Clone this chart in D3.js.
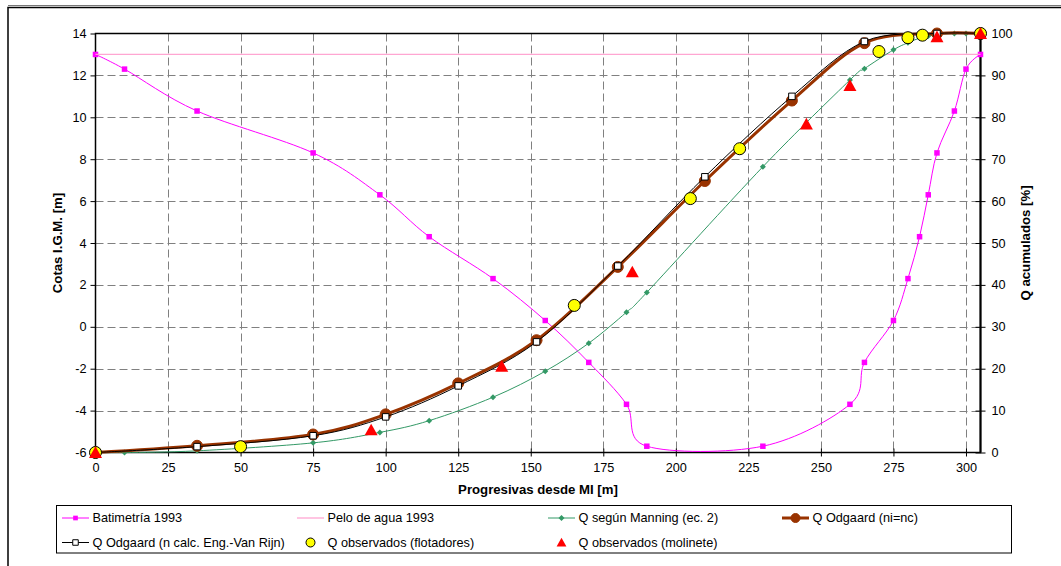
<!DOCTYPE html>
<html>
<head>
<meta charset="utf-8">
<script src="https://cdn.jsdelivr.net/npm/d3@7"></script>
<style>
  html, body { margin: 0; padding: 0; background: #fff; }
  svg { display: block; font-family: "Liberation Sans", Arial, sans-serif; }
</style>
</head>
<body>
<svg id="chart" width="1061" height="566"></svg>
<script>
// Cross-section stations (m from left bank) and bed elevations (m, I.G.M.)
const batimetriaX = [0, 10, 35, 75, 98, 115, 137, 155, 170, 183, 190, 230, 260, 265, 275, 280, 284, 287, 290, 296, 300, 305];
const batimetriaY = [13, 12.3, 10.3, 8.3, 6.3, 4.3, 2.3, 0.3, -1.7, -3.7, -5.7, -5.7, -3.7, -1.7, 0.3, 2.3, 4.3, 6.3, 8.3, 10.3, 12.3, 13];

// Water surface 1993
const peloAguaX = [0, 305];
const peloAguaY = [13, 13];

// Cumulative discharge (%) — Manning, eq. 2
const manningX = [0, 10, 35, 75, 98, 115, 137, 155, 170, 183, 190, 230, 260, 265, 275, 280, 284, 287, 290, 296, 300, 305];
const manningQ = [0, 0, 0.4, 2.3, 4.8, 7.6, 13.2, 19.4, 26.1, 33.5, 38.2, 68.2, 88.9, 91.6, 96.1, 97.8, 98.9, 99.4, 99.8, 100, 100, 100];

// Cumulative discharge (%) — Odgaard, ni = nc
const odgaardX = [0, 35, 75, 100, 125, 152, 180, 210, 240, 265, 290, 305];
const odgaardQ = [0, 1.6, 4.3, 9.1, 16.5, 26.8, 44.3, 64.8, 84.0, 97.7, 100, 100];

// Cumulative discharge (%) — Odgaard, n from Engelund–Van Rijn
const odgaardVRX = [0, 35, 75, 100, 125, 152, 180, 210, 240, 265, 290, 305];
const odgaardVRQ = [0, 1.4, 4.0, 8.5, 15.9, 26.4, 44.5, 65.8, 85.0, 98.1, 100, 100];

// Observed cumulative discharge (%) — floats
const flotadoresX = [0, 50, 165, 205, 222, 270, 280, 285, 305];
const flotadoresQ = [0, 1.4, 35.1, 60.6, 72.5, 95.7, 99.0, 99.6, 100];

// Observed cumulative discharge (%) — current meter
const molineteX = [0, 95, 140, 185, 245, 260, 290, 305];
const molineteQ = [0, 5.4, 20.6, 43.1, 78.4, 87.6, 99.2, 100];

// Axis ticks
const xTicks = [0, 25, 50, 75, 100, 125, 150, 175, 200, 225, 250, 275, 300];
const yLeftTicks = [-6, -4, -2, 0, 2, 4, 6, 8, 10, 12, 14];
const yRightTicks = [0, 10, 20, 30, 40, 50, 60, 70, 80, 90, 100];

const zip = (xs, ys) => xs.map((x, i) => [x, ys[i]]);

const svg = d3.select("#chart");
const plot = { left: 95.5, right: 980.5, top: 33.5, bottom: 452.5 };

const x = d3.scaleLinear().domain([0, 305]).range([plot.left, plot.right]);
const yL = d3.scaleLinear().domain([-6, 14]).range([plot.bottom, plot.top]);
const yR = d3.scaleLinear().domain([0, 100]).range([plot.bottom, plot.top]);

const FONT = 12.7;
const TITLE_FONT = 13.2;
const fmt = d => String(d);

// Outer chart frame
svg.append("line").attr("x1", 8).attr("x2", 1061).attr("y1", 5.5).attr("y2", 5.5)
  .attr("stroke", "#777").attr("stroke-width", 1);
svg.append("rect").attr("x", 8).attr("y", 7.5).attr("width", 1100).attr("height", 600)
  .attr("fill", "none").attr("stroke", "#000").attr("stroke-width", 1.5);

// Grid
const grid = svg.append("g").attr("stroke", "#808080").attr("stroke-width", 1).attr("stroke-dasharray", "8,4");
grid.selectAll(".gx").data(xTicks.filter(d => d > 0)).join("line")
  .attr("x1", d => Math.round(x(d)) + 0.5).attr("x2", d => Math.round(x(d)) + 0.5)
  .attr("y1", plot.top).attr("y2", plot.bottom);
grid.selectAll(".gy").data(yLeftTicks.filter(d => d > -6 && d < 14)).join("line")
  .attr("x1", plot.left).attr("x2", plot.right)
  .attr("y1", d => Math.round(yL(d)) + 0.5).attr("y2", d => Math.round(yL(d)) + 0.5);

// Axes
const axL = d3.axisLeft(yL).tickValues(yLeftTicks).tickFormat(fmt).tickSize(5).tickPadding(4);
const gL = svg.append("g").attr("transform", `translate(${plot.left},0)`).call(axL);
const axB = d3.axisBottom(x).tickValues(xTicks).tickFormat(fmt).tickSize(4).tickPadding(6);
const gB = svg.append("g").attr("transform", `translate(0,${plot.bottom})`).call(axB);
gB.selectAll(".tick line").attr("y1", -4);
const axR = d3.axisRight(yR).tickValues(yRightTicks).tickFormat(fmt).tickSize(5).tickPadding(6);
const gR = svg.append("g").attr("transform", `translate(${plot.right},0)`).call(axR);
gR.selectAll(".tick line").attr("x1", -5);

[gL, gB, gR].forEach(g => {
  g.select(".domain").remove();
  g.selectAll(".tick line").attr("stroke", "#000");
  g.selectAll(".tick text").attr("fill", "#000").style("font-size", FONT + "px")
    .style("font-family", '"Liberation Sans", Arial, sans-serif');
});

// Plot frame
svg.append("rect").attr("x", plot.left).attr("y", plot.top)
  .attr("width", plot.right - plot.left).attr("height", plot.bottom - plot.top)
  .attr("fill", "none").attr("stroke", "#000").attr("stroke-width", 1.5);
svg.append("line").attr("x1", plot.right).attr("x2", plot.right)
  .attr("y1", plot.top).attr("y2", plot.bottom).attr("stroke", "#000").attr("stroke-width", 2);

// Axis titles
svg.append("text").attr("transform", `translate(62,${(plot.top + plot.bottom) / 2}) rotate(-90)`)
  .attr("text-anchor", "middle").style("font-weight", "bold").style("font-size", TITLE_FONT + "px")
  .text("Cotas I.G.M. [m]");
svg.append("text").attr("transform", `translate(1030,${(plot.top + plot.bottom) / 2}) rotate(-90)`)
  .attr("text-anchor", "middle").style("font-weight", "bold").style("font-size", TITLE_FONT + "px")
  .text("Q acumulados [%]");
svg.append("text").attr("x", (plot.left + plot.right) / 2).attr("y", 494)
  .attr("text-anchor", "middle").style("font-weight", "bold").style("font-size", TITLE_FONT + "px")
  .text("Progresivas desde MI [m]");

const smooth = d3.curveCardinal.tension(0);
const lineL = d3.line().x(d => x(d[0])).y(d => yL(d[1])).curve(smooth);
const lineR = d3.line().x(d => x(d[0])).y(d => yR(d[1])).curve(smooth);

// Marker shapes
const sym = {
  square: (s) => d3.symbol(d3.symbolSquare, s * s)(),
  circle: (s) => d3.symbol(d3.symbolCircle, Math.PI * s * s / 4)(),
  diamond: (s) => `M0,${-s / 2}L${s / 2},0L0,${s / 2}L${-s / 2},0Z`,
  triangle: (s) => `M0,${-s * 0.48}L${s / 2},${s * 0.42}L${-s / 2},${s * 0.42}Z`
};

const series = [
  { name: "Batimetría 1993", data: zip(batimetriaX, batimetriaY), axis: "L", line: "#FF00FF", lw: 1, marker: "square", ms: 5.5, fill: "#FF00FF", stroke: "none" },
  { name: "Pelo de agua 1993", data: zip(peloAguaX, peloAguaY), axis: "L", line: "#FFA6D2", lw: 1.3, marker: null },
  { name: "Q según Manning (ec. 2)", data: zip(manningX, manningQ), axis: "R", line: "#339966", lw: 1, marker: "diamond", ms: 6, fill: "#339966", stroke: "none" },
  { name: "Q Odgaard (ni=nc)", data: zip(odgaardX, odgaardQ), axis: "R", line: "#993300", lw: 3, marker: "circle", ms: 11, fill: "#993300", stroke: "#993300" },
  { name: "Q Odgaard (n calc. Eng.-Van Rijn)", data: zip(odgaardVRX, odgaardVRQ), axis: "R", line: "#000", lw: 1, marker: "square", ms: 6.5, fill: "#fff", stroke: "#000" },
  { name: "Q observados (flotadores)", data: zip(flotadoresX, flotadoresQ), axis: "R", line: null, marker: "circle", ms: 12, fill: "#FFFF00", stroke: "#000" },
  { name: "Q observados (molinete)", data: zip(molineteX, molineteQ), axis: "R", line: null, marker: "triangle", ms: 13, fill: "#FF0000", stroke: "none" }
];

const plotG = svg.append("g");
series.forEach(s => {
  const yS = s.axis === "L" ? yL : yR;
  const g = plotG.append("g");
  if (s.line) {
    g.append("path").attr("d", (s.axis === "L" ? lineL : lineR)(s.data))
      .attr("fill", "none").attr("stroke", s.line).attr("stroke-width", s.lw);
  }
  if (s.marker) {
    g.selectAll("path.m").data(s.data).join("path").attr("class", "m")
      .attr("transform", d => `translate(${x(d[0])},${yS(d[1])})`)
      .attr("d", sym[s.marker](s.ms))
      .attr("fill", s.fill).attr("stroke", s.stroke).attr("stroke-width", 1);
  }
});

// Legend
const leg = svg.append("g");
leg.append("rect").attr("x", 56.5).attr("y", 505.5).attr("width", 955).attr("height", 47.5)
  .attr("fill", "#fff").attr("stroke", "#000").attr("stroke-width", 1);
const colX = [62, 297, 548, 782];
const rowY = [518, 542.5];
const legendScale = { square: 0.85, circle: 0.75, diamond: 1, triangle: 0.75 };
series.forEach((s, i) => {
  const cx = colX[i % 4], cy = rowY[Math.floor(i / 4)];
  const g = leg.append("g");
  const x1 = cx, x2 = cx + 27;
  if (s.line) {
    g.append("line").attr("x1", x1).attr("x2", x2).attr("y1", cy).attr("y2", cy)
      .attr("stroke", s.line).attr("stroke-width", s.lw);
  }
  if (s.marker) {
    const ms = s.marker === "circle" ? 9 : s.ms * legendScale[s.marker];
    g.append("path").attr("transform", `translate(${(x1 + x2) / 2},${cy})`)
      .attr("d", sym[s.marker](ms))
      .attr("fill", s.fill).attr("stroke", s.stroke).attr("stroke-width", 1);
  }
  g.append("text").attr("x", x2 + 3.5).attr("y", cy).attr("dy", "0.35em")
    .style("font-size", FONT + "px").text(s.name);
});
</script>
</body>
</html>
